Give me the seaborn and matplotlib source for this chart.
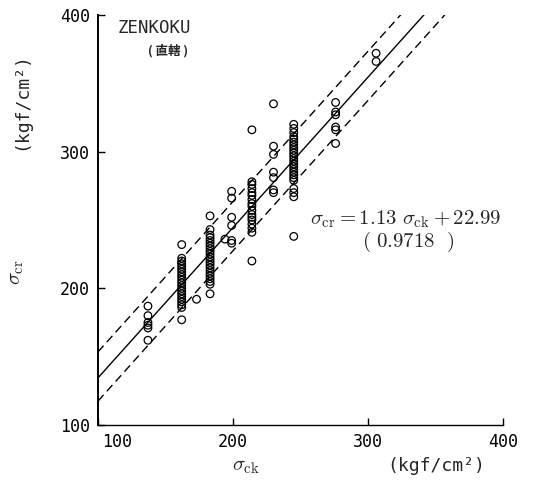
import matplotlib
matplotlib.use("Agg")
import matplotlib.pyplot as plt
import matplotlib.transforms as mtransforms
import numpy as np
import pandas as pd
import seaborn as sns

# ---- data ----
col_x = [137, 162, 183, 214, 245, 276, 306]
col_137 = [162, 171, 173, 175, 180, 187]
col_162 = [177, 186, 188, 190, 192, 194, 196, 198, 200, 202, 204, 206, 208,
           210, 212, 214, 216, 218, 220, 222, 232]
col_183 = [196, 203, 205, 207, 209, 211, 213, 215, 217, 219, 221, 223, 225,
           227, 229, 231, 233, 235, 237, 239, 243, 253]
col_214 = [220, 241, 244, 247, 250, 252, 254, 257, 260, 262, 265, 268, 270,
           273, 276, 278, 316]
col_245 = [238, 267, 270, 273, 279, 281, 283, 285, 287, 289, 291, 293, 295,
           297, 299, 301, 303, 305, 307, 309, 311, 314, 317, 320]
col_276 = [306, 316, 318, 327, 329, 336]
col_306 = [366, 372]
extra_x = [173, 194, 199, 199, 199, 199, 199, 199, 230, 230, 230, 230, 230, 230, 230]
extra_y = [192, 236, 235, 233, 246, 252, 266, 271, 335, 304, 298, 285, 281, 272, 270]

# lines as drawn in the picture
line_x = [100, 400]
mid_y = [134.5, 464.5]
up_y = [153.5, 483.5]
lo_y = [117.5, 447.5]

eq_text = r"$\sigma_{\rm cr} = 1.13\ \sigma_{\rm ck} + 22.99$"
r_text = "0.9718"
x_ticks = [100, 200, 300, 400]
y_ticks = [100, 200, 300, 400]

cols = [col_137, col_162, col_183, col_214, col_245, col_276, col_306]
xs, ys = [], []
for cx, cy in zip(col_x, cols):
    xs += [cx] * len(cy)
    ys += cy
xs += extra_x
ys += extra_y
df = pd.DataFrame({"sck": xs, "scr": ys})
lines = pd.DataFrame({"x": line_x, "mid": mid_y, "up": up_y, "lo": lo_y})

sns.set_style("ticks")
plt.rcParams["mathtext.fontset"] = "cm"
plt.rcParams["font.family"] = ["DejaVu Sans Mono", "Noto Sans CJK JP"]

W, H = 533, 488
fig = plt.figure(figsize=(W / 100, H / 100), dpi=100)
ax = fig.add_axes([98 / W, 63 / H, 405 / W, 410 / H])

sns.lineplot(data=lines, x="x", y="mid", color="black", lw=1.0, ax=ax)
sns.lineplot(data=lines, x="x", y="up", color="black", lw=1.0,
             linestyle=(0, (6, 3.5)), ax=ax)
sns.lineplot(data=lines, x="x", y="lo", color="black", lw=1.0,
             linestyle=(0, (6, 3.5)), ax=ax)
sns.scatterplot(data=df, x="sck", y="scr", marker="o", s=30,
                facecolor="none", edgecolor="black", linewidth=0.9,
                zorder=3, ax=ax)

ax.set_xlim(100, 400)
ax.set_ylim(100, 400)
ax.set_xticks(x_ticks)
ax.set_yticks(y_ticks)
ax.set_xlabel("")
ax.set_ylabel("")
for s in ["top", "right"]:
    ax.spines[s].set_visible(False)
ax.spines["left"].set_linewidth(1.4)
ax.spines["bottom"].set_linewidth(1.0)
ax.spines["left"].set_color("black")
ax.spines["bottom"].set_color("black")
ax.tick_params(direction="in", length=5, width=1, labelsize=12, pad=6,
               colors="black")

lab0 = ax.get_xticklabels()[0]
lab0.set_transform(lab0.get_transform() +
                   mtransforms.ScaledTranslation(0.19, 0, fig.dpi_scale_trans))

# labels
fig.text(16 / W, 1 - 272 / H, r"$\sigma_{\rm cr}$", rotation=90,
         ha="center", va="center", fontsize=15)
fig.text(21 / W, 1 - 101 / H, "(kgf/cm²)", rotation=90,
         ha="center", va="center", fontsize=13)
fig.text(246 / W, 1 - 466 / H, r"$\sigma_{\rm ck}$",
         ha="center", va="center", fontsize=15)
fig.text(436 / W, 1 - 466 / H, "(kgf/cm²)",
         ha="center", va="center", fontsize=13)

fig.text(118 / W, 1 - 28 / H, "ZENKOKU",
         ha="left", va="center", fontsize=12.5)
fig.text(168 / W, 1 - 51 / H, "( 直轄 )",
         ha="center", va="center", fontsize=9, fontweight="bold",
         family=["Noto Sans CJK JP", "DejaVu Sans"])

fig.text(406 / W, 1 - 219 / H, eq_text,
         ha="center", va="center", fontsize=15)
fig.text(408 / W, 1 - 242 / H, r"$(\ %s\ \ )$" % r_text,
         ha="center", va="center", fontsize=15)

fig.savefig("out.png", dpi=100)
